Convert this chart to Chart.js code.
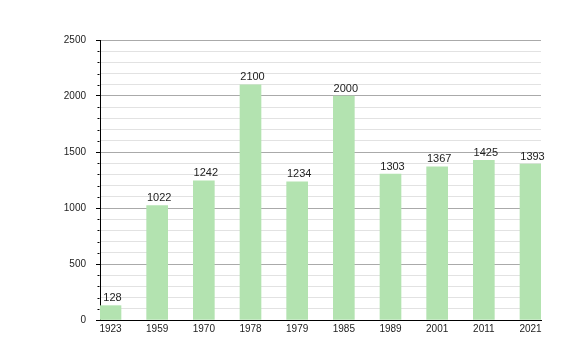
<!DOCTYPE html>
<html>
<head>
<meta charset="utf-8">
<script src="https://cdn.jsdelivr.net/npm/chart.js@4/dist/chart.umd.min.js"></script>
<style>
  html, body { margin: 0; padding: 0; background: #fff; }
  #wrap { width: 580px; height: 360px; }
</style>
</head>
<body>
<div id="wrap"><canvas id="chart" width="580" height="360"></canvas></div>
<script>
const years = ['1923', '1959', '1970', '1978', '1979', '1985', '1989', '2001', '2011', '2021'];
const population = [128, 1022, 1242, 2100, 1234, 2000, 1303, 1367, 1425, 1393];
const yMax = 2500;
const majorStep = 500;
const minorStep = 100;

const FAMILY = '"Liberation Sans", Arial, sans-serif';
const AXIS_FONT = { family: FAMILY, size: 10 };
const LABEL_SIZE = 11;

// value labels on top of each bar + short minor ticks on the y axis
const extras = {
  id: 'extras',
  afterDatasetsDraw(chart) {
    const ctx = chart.ctx;
    const meta = chart.getDatasetMeta(0);
    ctx.save();
    ctx.font = `${LABEL_SIZE}px ${FAMILY}`;
    ctx.fillStyle = '#222';
    ctx.textAlign = 'center';
    ctx.textBaseline = 'bottom';
    meta.data.forEach((bar, i) => {
      ctx.fillText(String(population[i]), bar.x + 2, bar.y - 2);
    });

    const y = chart.scales.y;
    const ax = Math.round(y.right) - 0.5;
    ctx.strokeStyle = '#000';
    ctx.lineWidth = 1;
    ctx.beginPath();
    for (let v = minorStep; v < yMax; v += minorStep) {
      if (v % majorStep === 0) continue;
      const py = Math.round(y.getPixelForValue(v)) + 0.5;
      ctx.moveTo(ax - 2, py);
      ctx.lineTo(ax, py);
    }
    ctx.stroke();
    ctx.restore();
  }
};

new Chart(document.getElementById('chart'), {
  type: 'bar',
  data: {
    datasets: [{
      data: population.map((v, i) => ({ x: i, y: v })),
      backgroundColor: '#b3e3b0',
      borderWidth: 0,
      barThickness: 21
    }]
  },
  options: {
    responsive: false,
    animation: false,
    layout: { padding: { left: 0, right: 39, top: 40, bottom: 0 } },
    plugins: { legend: { display: false }, tooltip: { enabled: false } },
    scales: {
      x: {
        type: 'linear',
        offset: false,
        min: -0.225,
        max: 9.225,
        afterBuildTicks: (scale) => { scale.ticks = years.map((_, i) => ({ value: i })); },
        afterFit: (scale) => { scale.height = 40; },
        grid: { display: false, drawTicks: false },
        border: { display: true, color: '#000', width: 1 },
        ticks: {
          font: AXIS_FONT,
          color: '#222',
          padding: 3,
          maxRotation: 0,
          autoSkip: false,
          callback: (v) => years[v]
        }
      },
      y: {
        min: 0,
        max: yMax,
        afterBuildTicks: (scale) => {
          const t = [];
          for (let v = 0; v <= yMax; v += minorStep) t.push({ value: v });
          scale.ticks = t;
        },
        afterFit: (scale) => { scale.width = 100; },
        border: { display: true, color: '#000', width: 1 },
        grid: {
          color: (c) => (c.tick.value % majorStep === 0 ? '#aaaaaa' : '#e2e2e2'),
          tickColor: (c) => (c.tick.value % majorStep === 0 ? '#000' : 'rgba(0,0,0,0)'),
          tickLength: 4,
          lineWidth: 1
        },
        ticks: {
          font: AXIS_FONT,
          color: '#222',
          padding: 10,
          autoSkip: false,
          callback: (v) => (v % majorStep === 0 ? String(v) : '')
        }
      }
    }
  },
  plugins: [extras]
});
</script>
</body>
</html>
